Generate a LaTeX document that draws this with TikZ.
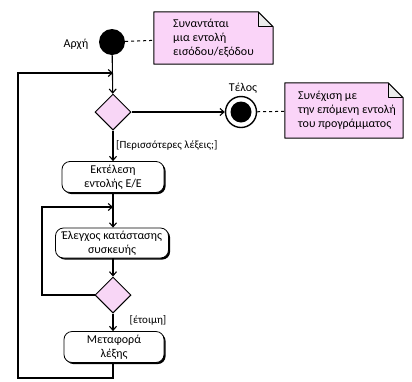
\documentclass[tikz,border=0pt]{standalone}
\usepackage{fontspec}
\setmainfont{Carlito}
\usetikzlibrary{arrows.meta,shapes.geometric,shadows,calc}
\definecolor{notepink}{RGB}{250,212,248}
\definecolor{decpink}{RGB}{248,214,246}
\begin{document}
\begin{tikzpicture}[x=1pt,y=-1pt,
  font=\fontsize{12}{14}\selectfont,
  flow/.style={line width=1.1pt,-{Straight Barb[length=4pt,width=7pt,line width=1.1pt]}},
  plain/.style={line width=1.1pt},
  link/.style={line width=1pt,dashed,dash pattern=on 3pt off 3pt},
  action/.style={draw,line width=0.8pt,fill=white,rounded corners=8pt,align=center,
    inner sep=0pt,drop shadow={shadow xshift=1.6pt,shadow yshift=-1.6pt,opacity=1,fill=black}},
  decision/.style={diamond,draw,line width=1pt,fill=decpink,inner sep=0pt,minimum size=36pt},
  notebox/.style={align=left,inner sep=0pt},
  guard/.style={font=\fontsize{11}{13}\selectfont,inner sep=1pt}]
\useasboundingbox (0,0) rectangle (412,381);

% notes with a folded corner (size given in picture units)
\newcommand{\notefold}[2]{%
  \fill[notepink] (#1.north west) -- ($(#1.north east)+(-#2,0)$) -- ($(#1.north east)+(0,#2)$)
    -- (#1.south east) -- (#1.south west) -- cycle;
  \fill[gray!15] ($(#1.north east)+(-#2,0)$) -- ($(#1.north east)+(-#2,#2)$) -- ($(#1.north east)+(0,#2)$) -- cycle;
  \draw[line width=1pt,line join=round] (#1.north west) -- ($(#1.north east)+(-#2,0)$) -- ($(#1.north east)+(0,#2)$)
    -- (#1.south east) -- (#1.south west) -- cycle;
  \draw[line width=0.7pt,line join=round] ($(#1.north east)+(-#2,0)$) -- ($(#1.north east)+(-#2,#2)$) -- ($(#1.north east)+(0,#2)$);}

% start and end
\node[circle,fill=black,minimum size=26pt,inner sep=0pt] (start) at (112,42) {};
\node (startlab) at (76,44) {Αρχή};
\node[circle,draw,line width=1.4pt,fill=white,minimum size=31pt,inner sep=0pt] (stop) at (241,112) {};
\node[circle,fill=black,minimum size=21pt,inner sep=0pt] (stopin) at (241,112) {};
\node (stoplab) at (243,88) {Τέλος};

% notes: outline first, then the text on top
\node[minimum width=119pt,minimum height=52pt,inner sep=0pt] (note1) at (213.5,38) {};
\node[minimum width=118pt,minimum height=55pt,inner sep=0pt] (note2) at (344,110.5) {};
\notefold{note1}{15}
\notefold{note2}{15}
\node[notebox] (note1txt) at (note1) {Συναντάται\\μια εντολή\\εισόδου/εξόδου};
\node[notebox] (note2txt) at ($(note2)+(3,0)$) {Συνέχιση με\\την επόμενη εντολή\\του προγράμματος};

% activity flow
\node[decision] (dec1) at (113,112) {};
\node[action,minimum width=102pt,minimum height=31pt] (exec) at (113,177) {Εκτέλεση\\εντολής Ε/Ε};
\node[action,minimum width=113pt,minimum height=30pt] (check) at (112,243) {Έλεγχος κατάστασης\\συσκευής};
\node[decision] (dec2) at (113,295) {};
\node[action,minimum width=100pt,minimum height=31pt] (move) at (114,347) {Μεταφορά\\λέξης};

\node[guard,anchor=west] (g1) at (115,145) {[Περισσότερες λέξεις;]};
\node[guard] (g2) at (148,320) {[έτοιμη]};

\coordinate (outerjoin) at (113,73);
\coordinate (innerjoin) at (113,207);
\coordinate (outerbot) at (113,378);
\coordinate (outerleft) at (18,378);
\coordinate (outertop) at (18,73);
\coordinate (innerleft) at (42,295);
\coordinate (innertop) at (42,207);

\draw[link] (start) -- (note1);
\draw[link] (stop) -- (note2);

\draw[flow] (start) -- (dec1);
\draw[flow] (dec1) -- (stop);
\draw[flow] (dec1) -- (exec);
\draw[flow] (exec.south -| dec1) -- (check.north -| dec1);
\draw[flow] (check.south -| dec1) -- (dec2);
\draw[flow] (dec2) -- (move.north -| dec2);

% inner loop: device not ready
\draw[flow] (dec2.west) -- (innerleft) -- (innertop) -- (innerjoin);
% outer loop: next word
\draw[flow] (move.south -| dec2) -- (outerbot) -- (outerleft) -- (outertop) -- (outerjoin);
\end{tikzpicture}
\end{document}
